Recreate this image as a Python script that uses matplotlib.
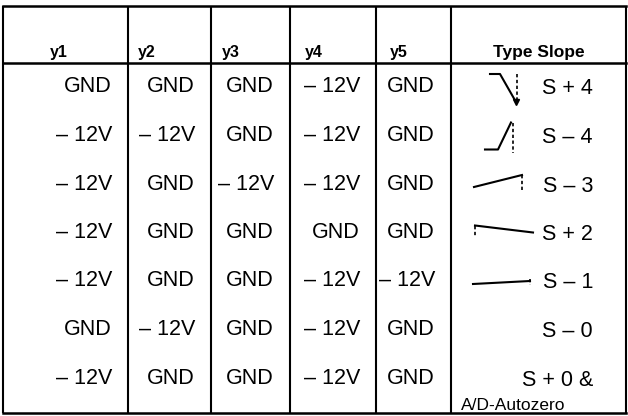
import matplotlib
matplotlib.use("Agg")
from matplotlib import pyplot as plt

# table contents
headers = ['y1', 'y2', 'y3', 'y4', 'y5', 'Type Slope']
y1 = ['GND', '– 12V', '– 12V', '– 12V', '– 12V', 'GND', '– 12V']
y2 = ['GND', '– 12V', 'GND', 'GND', 'GND', '– 12V', 'GND']
y3 = ['GND', 'GND', '– 12V', 'GND', 'GND', 'GND', 'GND']
y4 = ['– 12V', '– 12V', '– 12V', 'GND', '– 12V', '– 12V', '– 12V']
y5 = ['GND', 'GND', 'GND', 'GND', '– 12V', 'GND', 'GND']
slope_types = ['S + 4', 'S – 4', 'S – 3', 'S + 2', 'S – 1', 'S – 0', 'S + 0 &']
extra_note = 'A/D-Autozero'

# little slope sketches, (dx, dy) from the start of the type column / row centre
icon_solid = [
    [(39, -15), (49, -15), (65, 13)],
    [(34, 12), (47, 12), (60, -15)],
    [(23, 1), (71, -11)],
    [(24, -9), (82, -2)],
    [(22, 1), (79, -2)],
    [],
    [],
]
icon_dashed = [
    [(66, -15), (66, 13)],
    [(62, -15), (62, 15)],
    [(71, -11), (71, 4)],
    [(24, -9), (24, 2)],
    [(79, -4), (79, 2)],
    [],
    [],
]

col_edges = [3, 128, 211, 290, 376, 451, 626]
top, head_line, bottom = 6, 63, 413
first_row, pitch = 87, 48.5

fig = plt.figure(figsize=(6.28, 4.16), dpi=100)
ax = fig.add_axes([0, 0, 1, 1])
ax.set_xlim(0, 628)
ax.set_ylim(416, 0)
ax.axis('off')

lw = 1.5
for x in col_edges:
    ax.plot([x, x], [top, bottom], color='black', lw=lw, solid_capstyle='butt')
for y in [top, head_line, bottom]:
    ax.plot([col_edges[0], col_edges[-1]], [y, y], color='black', lw=1.8)

# headers
head_font = ['Liberation Sans', 'DejaVu Sans']
head_x = [50, 138, 222, 305, 390]
for h, x in zip(headers[:5], head_x):
    ax.text(x, 52, h, family=head_font, fontweight='bold', fontsize=11.5,
            ha='left', va='center')
ax.text((col_edges[5] + col_edges[6]) / 2, 52, headers[5], family=head_font,
        fontweight='bold', fontsize=12.5, ha='center', va='center')

body_font = ['Liberation Sans', 'DejaVu Sans']
cols = [y1, y2, y3, y4, y5]
for c, vals in enumerate(cols):
    right = col_edges[c + 1] - 16
    for r, v in enumerate(vals):
        ax.text(right, first_row + r * pitch, v, family=body_font, fontsize=15.5,
                ha='right', va='center')

x0 = col_edges[5]
for r, lab in enumerate(slope_types):
    yc = first_row + 2 + r * pitch
    ax.text(593, yc, lab, family=body_font, fontsize=15.5, ha='right', va='center')
    pts = icon_solid[r]
    if pts:
        ax.plot([x0 + p[0] for p in pts], [yc + p[1] for p in pts],
                color='black', lw=1.5)
    pts = icon_dashed[r]
    if pts:
        ax.plot([x0 + p[0] for p in pts], [yc + p[1] for p in pts],
                color='black', lw=1.2, dashes=(2, 1.5))
    if r == 0:
        end = icon_solid[0][-1]
        ax.plot(x0 + end[0], yc + end[1], marker='v', color='black', ms=4)

ax.text(461, first_row + 2 + 6 * pitch + 25, extra_note, family=body_font,
        fontsize=12.5, ha='left', va='center')

fig.savefig('out.png', dpi=100, facecolor='white')
